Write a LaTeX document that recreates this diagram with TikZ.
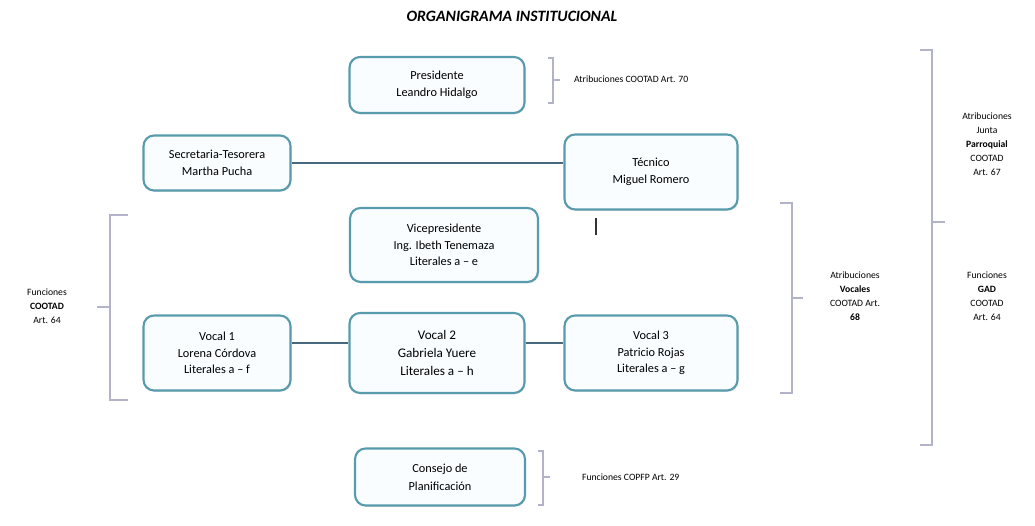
\documentclass[tikz,border=0pt]{standalone}
\usepackage{fontspec}
\setmainfont{Carlito}
\usetikzlibrary{shadows}
\definecolor{boxborder}{RGB}{88,155,172}
\definecolor{boxfill}{RGB}{250,253,255}
\definecolor{linkcol}{RGB}{70,105,125}
\definecolor{brackcol}{RGB}{178,178,200}
\tikzset{
  orgbox/.style={draw=boxborder, line width=1.2pt, rounded corners=6pt, fill=boxfill,
    align=center, font=\fontsize{7}{9.5}\selectfont, inner sep=0pt,
    drop shadow={shadow xshift=0.6pt, shadow yshift=-0.8pt, fill=black!20}},
  link/.style={draw=linkcol, line width=0.8pt},
  brack/.style={draw=brackcol, line width=0.8pt},
  note/.style={align=center, font=\fontsize{5.5}{8}\selectfont, inner sep=1pt}
}
\begin{document}
\begin{tikzpicture}[x=0.02cm,y=-0.02cm]
\useasboundingbox (0,0) rectangle (1035,526);
\node[font=\fontsize{9}{11}\selectfont\bfseries\itshape] (title) at (512,16) {ORGANIGRAMA INSTITUCIONAL};

\node[orgbox, minimum width=3.5cm, minimum height=1.12cm] (pres) at (437,85) {Presidente\\Leandro Hidalgo};
\node[orgbox, minimum width=2.94cm, minimum height=1.1cm] (sec) at (217,163) {Secretaria-Tesorera\\Martha Pucha};
\node[orgbox, minimum width=3.46cm, minimum height=1.5cm] (tec) at (651,172) {Técnico\\Miguel Romero};
\node[orgbox, minimum width=3.76cm, minimum height=1.48cm] (vice) at (444,245) {Vicepresidente\\Ing. Ibeth Tenemaza\\Literales a – e};
\node[orgbox, minimum width=2.94cm, minimum height=1.5cm] (v1) at (217,353) {Vocal 1\\Lorena Córdova\\Literales a – f};
\node[orgbox, minimum width=3.5cm, minimum height=1.6cm, font=\fontsize{7.5}{10}\selectfont] (v2) at (437,353) {Vocal 2\\Gabriela Yuere\\Literales a – h};
\node[orgbox, minimum width=3.46cm, minimum height=1.5cm] (v3) at (651,353) {Vocal 3\\Patricio Rojas\\Literales a – g};
\node[orgbox, minimum width=3.4cm, minimum height=1.14cm, font=\fontsize{7}{10}\selectfont] (cons) at (440,477) {Consejo de\\Planificación};

\draw[link] (sec.east) -- (sec.east -| tec.west);
\draw[link] (v1.east |- 0,343) -- (v2.west |- 0,343);
\draw[link] (v2.east |- 0,343) -- (v3.west |- 0,343);
\coordinate (tk1) at (596,218);
\coordinate (tk2) at (596,235);
\draw[line width=1pt, black!80] (tk1) -- (tk2);

% bracket presidente
\draw[brack] (548,58) -- (553,58) -- (553,103) -- (548,103);
\draw[brack] (553,80) -- (560,80);
\node[note, anchor=west] (npres) at (572,79) {Atribuciones COOTAD Art. 70};

% bracket consejo
\draw[brack] (538,451) -- (543,451) -- (543,505) -- (538,505);
\draw[brack] (543,477) -- (550,477);
\node[note, anchor=west] (ncons) at (580,477) {Funciones COPFP Art. 29};

% left bracket
\draw[brack] (128,215) -- (110,215) -- (110,400) -- (128,400);
\draw[brack] (110,307) -- (97,307);
\node[note] (nleft) at (47,306) {Funciones\\\textbf{COOTAD}\\Art. 64};

% middle right bracket
\draw[brack] (780,203) -- (792,203) -- (792,393) -- (780,393);
\draw[brack] (792,298) -- (803,298);
\node[note] (nvoc) at (855,296) {Atribuciones\\\textbf{Vocales}\\COOTAD Art.\\\textbf{68}};

% far right bracket
\draw[brack] (920,50) -- (932,50) -- (932,445) -- (920,445);
\draw[brack] (932,222) -- (945,222);
\node[note] (njunta) at (987,144) {Atribuciones\\Junta\\\textbf{Parroquial}\\COOTAD\\Art. 67};
\node[note] (ngad) at (987,296) {Funciones\\\textbf{GAD}\\COOTAD\\Art. 64};
\end{tikzpicture}
\end{document}
